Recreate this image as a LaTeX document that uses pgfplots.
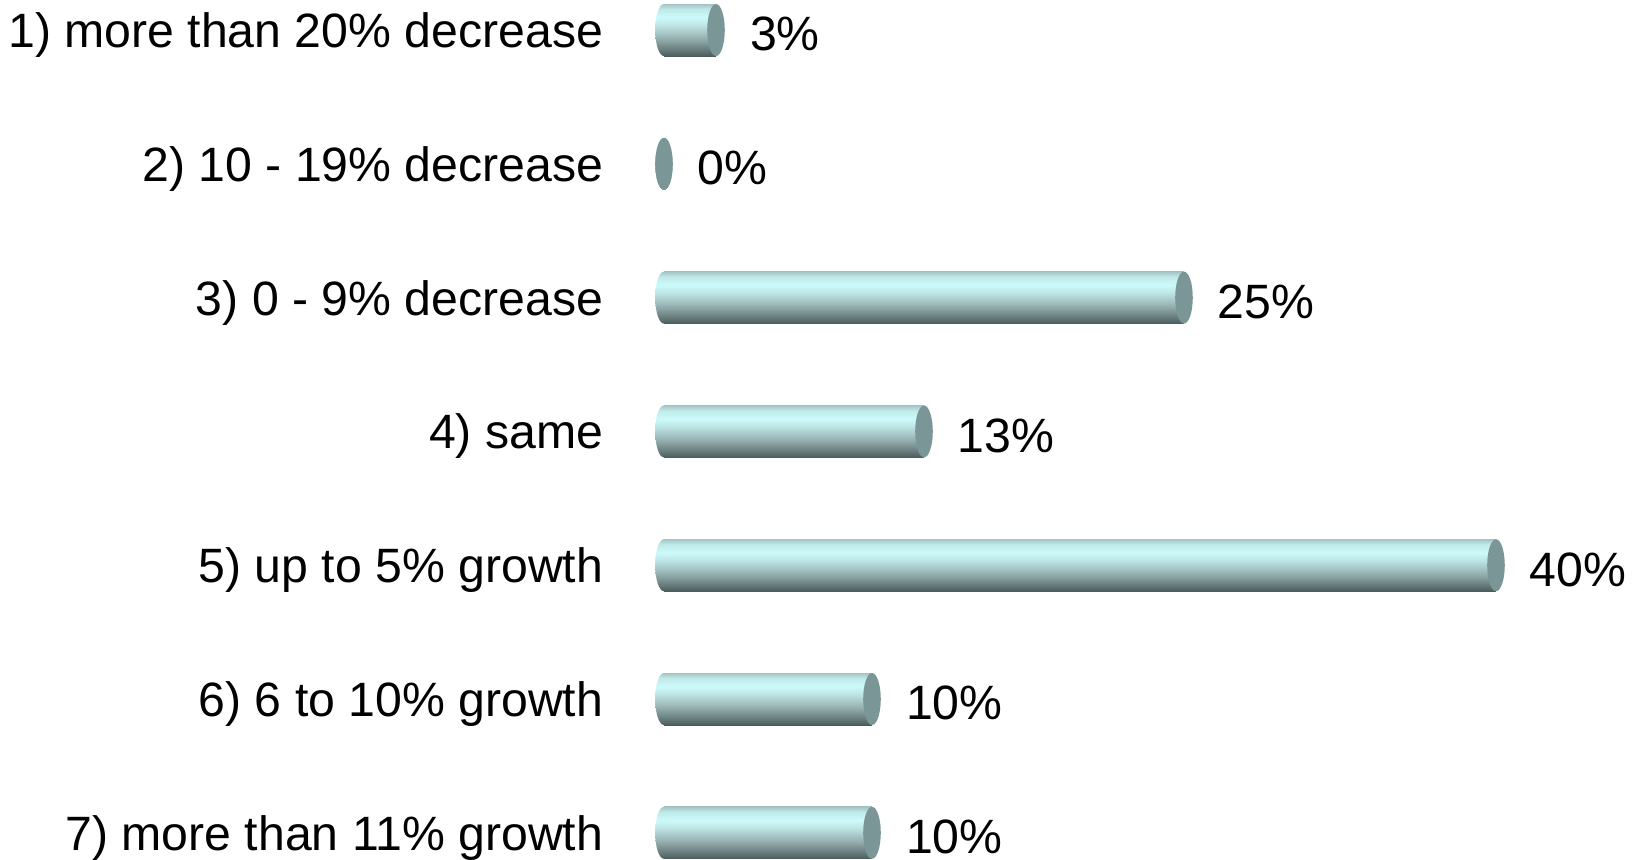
\documentclass[border=0pt]{standalone}
\usepackage{fontspec}
\setmainfont{Liberation Sans}
\usepackage{pgfplots}
\pgfplotsset{compat=1.18}

% cylinder colours
\definecolor{capcol}{HTML}{7B9696}
\definecolor{cylA}{HTML}{4C5C5C}
\definecolor{cylB}{HTML}{6F8585}
\definecolor{cylC}{HTML}{9AB4B4}
\definecolor{cylD}{HTML}{BFE6E6}
\definecolor{cylE}{HTML}{CCFAFA}
\definecolor{cylF}{HTML}{C0EAEA}
\definecolor{cylG}{HTML}{A4C4C4}

\pgfdeclareverticalshading{cyl}{100bp}{color(0bp)=(cylA); color(25bp)=(cylA);
  color(33bp)=(cylB); color(43bp)=(cylC); color(55bp)=(cylD); color(62bp)=(cylE);
  color(70bp)=(cylF); color(75bp)=(cylG); color(100bp)=(cylG)}

% left end (shaded) and right end (flat) of the cylinders
\pgfdeclareplotmark{lcap}{%
  \pgfpathellipse{\pgfpointorigin}{\pgfqpoint{2.2pt}{0pt}}{\pgfqpoint{0pt}{6.5pt}}%
  \pgfshadepath{cyl}{0}\pgfusepath{}}
\pgfdeclareplotmark{rcap}{%
  \pgfsetfillcolor{capcol}%
  \pgfpathellipse{\pgfpointorigin}{\pgfqpoint{2.2pt}{0pt}}{\pgfqpoint{0pt}{6.5pt}}%
  \pgfusepath{fill}}

\newcommand\lblfont{\fontsize{12.05}{14}\selectfont}

\pgfplotsset{cylbar/.style={xbar, bar width=13pt, bar shift=0pt, draw=none, shade, shading=cyl}}

\begin{document}
\begin{tikzpicture}
\begin{axis}[
  at={(166pt,6.55pt)}, anchor=south west,
  scale only axis,
  width=208pt, height=200.7pt,
  xmin=0, xmax=40,
  ymin=1, ymax=7,
  y dir=reverse,
  clip=false,
  axis line style={draw=none},
  tick style={draw=none},
  xtick=\empty,
  ytick={1,2,3,4,5,6,7},
  yticklabels={1) more than 20\% decrease, 2) 10 - 19\% decrease, 3) 0 - 9\% decrease,
    4) same, 5) up to 5\% growth, 6) 6 to 10\% growth, 7) more than 11\% growth},
  yticklabel style={anchor=base east, inner sep=0pt, xshift=-15pt, yshift=-4.35pt, font=\lblfont},
]
\addplot[only marks, mark=lcap]
  coordinates {(0,1) (0,2) (0,3) (0,4) (0,5) (0,6) (0,7)};
% one plot per bar, so that each bar gets its own shading
\addplot[cylbar] coordinates {(2.5,1)};
\addplot[cylbar] coordinates {(25,3)};
\addplot[cylbar] coordinates {(12.5,4)};
\addplot[cylbar] coordinates {(40,5)};
\addplot[cylbar] coordinates {(10,6)};
\addplot[cylbar] coordinates {(10,7)};
\addplot[only marks, mark=rcap,
  point meta=explicit symbolic,
  nodes near coords={\pgfplotspointmeta\%},
  nodes near coords style={anchor=base west, inner sep=0pt, xshift=8.3pt, yshift=-5.2pt, black, font=\lblfont}]
  coordinates {(2.5,1) [3] (0,2) [0] (25,3) [25] (12.5,4) [13] (40,5) [40] (10,6) [10] (10,7) [10]};
\end{axis}
\pgfresetboundingbox
\path[use as bounding box] (0,0) rectangle (409.5pt,214.75pt);
\end{tikzpicture}
\end{document}
